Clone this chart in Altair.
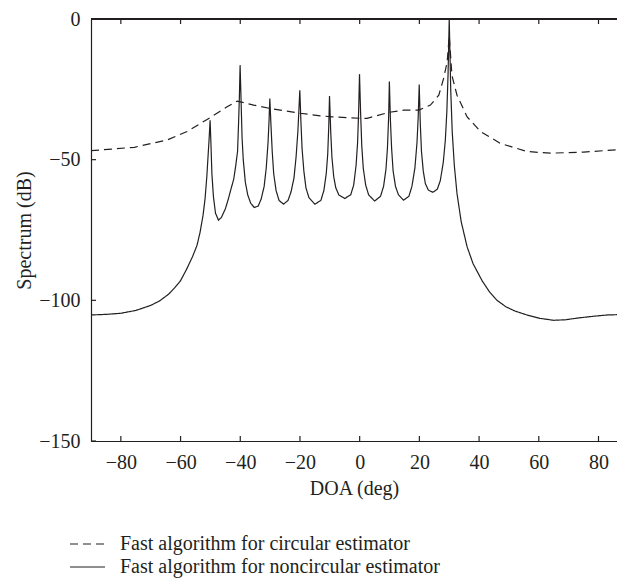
import altair as alt
import pandas as pd

INK = "#231f20"
FONT = "Liberation Serif"

# Fast algorithm for noncircular estimator (solid)
doa_nc = [-90, -85, -80, -75, -70, -67, -64, -62, -60, -58, -56, -54.5, -53.5, -52.5, -51.8, -51.2, -50.8, -50.4, -50.1,
          -49.8, -49.5, -49, -48.3, -47.3, -46.3, -45, -44, -43, -42.2, -41.5, -40.9, -40.6, -40.3, -40.05,
          -39.7, -39.4, -39, -38.3, -37.5, -36.5, -35.3, -34, -33, -32, -31.3, -30.7, -30.35, -30.1,
          -29.7, -29.3, -28.8, -28, -27, -25.5, -24, -23, -22, -21.3, -20.7, -20.3, -20.05,
          -19.7, -19.3, -18.7, -18, -17, -15, -13, -12, -11.2, -10.7, -10.35, -10.1,
          -9.7, -9.3, -8.7, -8, -7, -5, -3, -2, -1.2, -0.7, -0.35, -0.05,
          0.3, 0.7, 1.2, 2, 3, 5, 7, 8, 8.8, 9.3, 9.7, 9.95,
          10.3, 10.7, 11.2, 12, 13, 14.7, 16.5, 17.5, 18.5, 19.2, 19.6, 19.95,
          20.3, 20.7, 21.3, 22, 23, 24.5, 26, 27, 28, 28.7, 29.2, 29.6, 29.85, 30,
          30.2, 30.5, 31, 31.7, 32.6, 34, 36, 38, 41, 43.5, 46, 49, 52, 56, 60.4, 65, 69, 73, 78, 83, 90]
spec_nc = [-105.2, -105.0, -104.6, -103.6, -101.8, -100.2, -97.8, -95.6, -93.0, -89.0, -84.5, -80.5, -76, -70, -64, -56, -49, -42, -36,
           -45, -55, -63, -69, -71.5, -70.5, -67.5, -64, -60, -57, -52, -47, -38, -28, -16.4,
           -30, -42, -50, -58, -62.5, -65.5, -67, -66.5, -64, -59.5, -53, -44, -36, -28.3,
           -38, -47, -55, -61, -64.5, -65.8, -64.5, -61.5, -56.5, -49, -40, -31, -25.3,
           -36, -46, -54, -60, -63.5, -65.8, -64.5, -61, -55, -48, -38, -27.4,
           -40, -49, -56, -60, -62.5, -63.8, -62.5, -59, -52, -44, -33, -19.6,
           -33, -45, -53, -59, -62.5, -64.7, -63, -59.5, -53.5, -46, -35, -22.2,
           -36, -46, -54, -59.5, -62.5, -64.4, -63, -59.5, -53, -44, -35, -23.3,
           -37, -47, -54, -58.5, -60.8, -61.6, -60.5, -57.5, -51, -43, -33, -20, -8, 0,
           -10, -25, -40, -52, -62, -72, -81, -87, -93, -97, -100, -102.3, -103.8, -105.2, -106.4, -107.1, -106.9, -106.3, -105.7, -105.2, -105.0]

# Fast algorithm for circular estimator (dashed)
doa_c = [-90, -75.5, -64.5, -57.8, -51.1, -44.4, -41, -35.5, -30, -20, -13.2, -9.2, 0.2, 2.5, 9.7, 14.8, 19.8,
         23.7, 26.5, 28.1, 29.3, 30, 30.9, 32.6, 36, 40.5, 47.1, 56, 63.9, 75, 90]
spec_c = [-46.8, -45.6, -43, -40, -35.7, -31.2, -29.2, -30.6, -31.8, -33.5, -34.4, -34.8, -35.3, -35.3, -33.2, -32.4, -32.4,
          -30.6, -27.1, -21.2, -15.3, -6, -20, -27.1, -34.8, -40, -44.2, -47.1, -47.7, -47.3, -46.2]

series = ["Fast algorithm for circular estimator", "Fast algorithm for noncircular estimator"]
x_ticks = [-80, -60, -40, -20, 0, 20, 40, 60, 80]
y_ticks = [0, -50, -100, -150]

DASH = [8, 5]
SOLID = [1, 0]

df = pd.concat([
    pd.DataFrame({"doa": doa_c, "spec": spec_c, "series": series[0]}),
    pd.DataFrame({"doa": doa_nc, "spec": spec_nc, "series": series[1]}),
])

W, H = 526, 422
xscale = alt.Scale(domain=[-90, 86.2], nice=False, zero=False)
yscale = alt.Scale(domain=[-150, 0], nice=False, zero=False)

lines = alt.Chart(df).mark_line(color=INK, strokeWidth=1.2, clip=True).encode(
    x=alt.X("doa:Q", scale=xscale, title="DOA (deg)",
            axis=alt.Axis(values=x_ticks, ticks=False, grid=False, labelPadding=11,
                          titlePadding=6, domainColor=INK, domainWidth=1.2)),
    y=alt.Y("spec:Q", scale=yscale, title="Spectrum (dB)",
            axis=alt.Axis(values=y_ticks, ticks=False, grid=False, labelPadding=11,
                          titlePadding=4, domainColor=INK, domainWidth=1.2)),
    strokeDash=alt.StrokeDash("series:N", scale=alt.Scale(domain=series, range=[DASH, SOLID]), legend=None),
    order=alt.Order("doa:Q"),
)

xt = pd.DataFrame({"v": x_ticks})
yt = pd.DataFrame({"v": y_ticks})

bottom_ticks = alt.Chart(xt).mark_rule(color=INK, strokeWidth=1.2).encode(
    x=alt.X("v:Q", scale=xscale), y=alt.value(H), y2=alt.value(H - 5))
top_ticks = alt.Chart(xt).mark_rule(color=INK, strokeWidth=1.2).encode(
    x=alt.X("v:Q", scale=xscale), y=alt.value(0), y2=alt.value(5))
left_ticks = alt.Chart(yt).mark_rule(color=INK, strokeWidth=1.2).encode(
    y=alt.Y("v:Q", scale=yscale), x=alt.value(0), x2=alt.value(5))
top_line = alt.Chart(xt).mark_rule(color=INK, strokeWidth=1.2).encode(
    x=alt.value(0), x2=alt.value(W), y=alt.value(0))

# legend (below the plot)
leg = []
for i, (name, dash) in enumerate(zip(series, [DASH, SOLID])):
    ly = 525 + 23 * i
    ld = pd.DataFrame({"series": [name]})
    leg.append(alt.Chart(ld).mark_rule(color=INK, strokeWidth=1.2, strokeDash=dash).encode(
        x=alt.value(-21), x2=alt.value(14), y=alt.value(ly)))
    leg.append(alt.Chart(ld).mark_text(align="left", baseline="middle", font=FONT, fontSize=20,
                                       color=INK).encode(
        text="series:N", x=alt.value(29), y=alt.value(ly)))

chart = alt.layer(lines, bottom_ticks, top_ticks, left_ticks, top_line, *leg).properties(
    width=W, height=H,
    autosize=alt.AutoSizeParams(type="none"),
    padding={"left": 83, "top": 11, "right": 0, "bottom": 137},
).configure_view(stroke=None).configure_axis(
    labelFont=FONT, labelFontSize=20, labelColor=INK,
    titleFont=FONT, titleFontSize=20, titleColor=INK, titleFontWeight="normal",
)

chart.save("out.html", embed_options={"renderer": "svg", "actions": False})
